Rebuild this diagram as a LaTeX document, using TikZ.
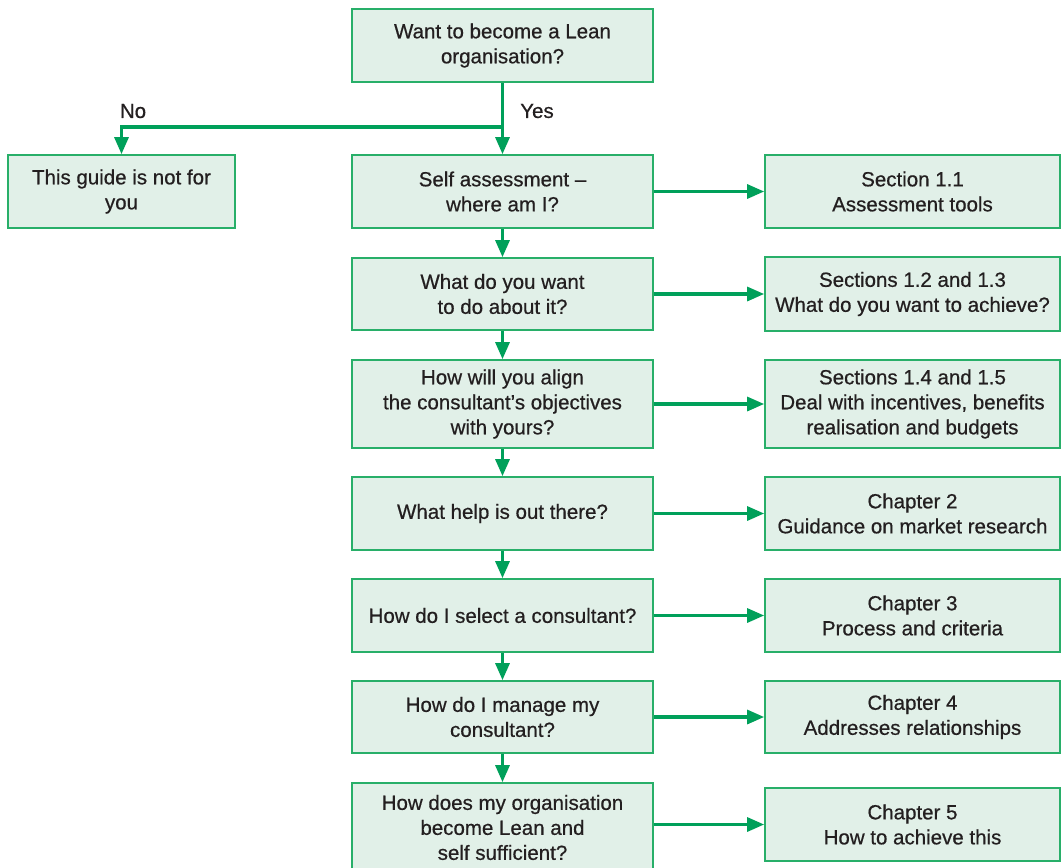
\documentclass[tikz,border=0pt]{standalone}
\usepackage{fontspec}
\setmainfont[FakeBold=0.6]{Liberation Sans}
\usetikzlibrary{arrows.meta}
\definecolor{gline}{RGB}{0,160,90}
\definecolor{gborder}{RGB}{40,175,105}
\definecolor{gfill}{RGB}{225,240,232}
\definecolor{gtext}{RGB}{35,31,32}
\tikzset{
  box/.style={draw=gborder, line width=1.7pt, fill=gfill, text=gtext, align=center,
    inner sep=0pt, font=\fontsize{20.5}{25}\selectfont,
    minimum width=301pt, minimum height=73pt, anchor=center},
  rbox/.style={box, minimum width=295pt},
  arr/.style={draw=gline, line width=3.1pt, line join=miter,
    -{Triangle[length=17pt,width=14pt]}},
  lab/.style={text=gtext, font=\fontsize{20.5}{25}\selectfont, inner sep=0pt}
}
\begin{document}
\begin{tikzpicture}[x=1pt,y=-1pt]
\useasboundingbox (0,0) rectangle (1061,868);
% main column
\node[box] (q0) at (502.5,45.5) {Want to become a Lean\\organisation?};
\node[box, minimum width=227pt] (no) at (121.5,191.5) {This guide is not for\\you};
\node[box] (q1) at (502.5,191.5) {Self assessment –\\where am I?};
\node[box, minimum height=72pt] (q2) at (502.5,294) {What do you want\\to do about it?};
\node[box, minimum height=88pt] (q3) at (502.5,404) {How will you align\\the consultant’s objectives\\with yours?};
\node[box] (q4) at (502.5,513.5) {What help is out there?};
\node[box] (q5) at (502.5,615.5) {How do I select a consultant?};
\node[box, minimum height=72pt] (q6) at (502.5,717) {How do I manage my\\consultant?};
\node[box, minimum height=89pt] (q7) at (502.5,827.5) {How does my organisation\\become Lean and\\self sufficient?};
% right column
\node[rbox] (r1) at (912.5,191.5) {Section 1.1\\Assessment tools};
\node[rbox, minimum height=74pt] (r2) at (912.5,294) {Sections 1.2 and 1.3\\What do you want to achieve?};
\node[rbox, minimum height=88pt] (r3) at (912.5,404) {Sections 1.4 and 1.5\\Deal with incentives, benefits\\realisation and budgets};
\node[rbox] (r4) at (912.5,513.5) {Chapter 2\\Guidance on market research};
\node[rbox] (r5) at (912.5,615.5) {Chapter 3\\Process and criteria};
\node[rbox, minimum height=72pt] (r6) at (912.5,717) {Chapter 4\\Addresses relationships};
\node[rbox] (r7) at (912.5,824.5) {Chapter 5\\How to achieve this};
% branch
\coordinate (br) at (502.5,127);
\draw[draw=gline, line width=3.1pt] (q0.south) -- (br);
\draw[arr] (br) -- (q1.north);
\draw[arr] (br) -| (no.north);
\node[lab] (lno) at (133,111) {No};
\node[lab] (lyes) at (537,111) {Yes};
% vertical arrows
\draw[arr] (q1.south) -- (q2.north);
\draw[arr] (q2.south) -- (q3.north);
\draw[arr] (q3.south) -- (q4.north);
\draw[arr] (q4.south) -- (q5.north);
\draw[arr] (q5.south) -- (q6.north);
\draw[arr] (q6.south) -- (q7.north);
% horizontal arrows
\draw[arr] (q1.east) -- (r1.west);
\draw[arr] (q2.east) -- (r2.west);
\draw[arr] (q3.east) -- (r3.west);
\draw[arr] (q4.east) -- (r4.west);
\draw[arr] (q5.east) -- (r5.west);
\draw[arr] (q6.east) -- (r6.west);
\draw[arr] (r7.west -| q7.east) -- (r7.west);
\end{tikzpicture}
\end{document}
